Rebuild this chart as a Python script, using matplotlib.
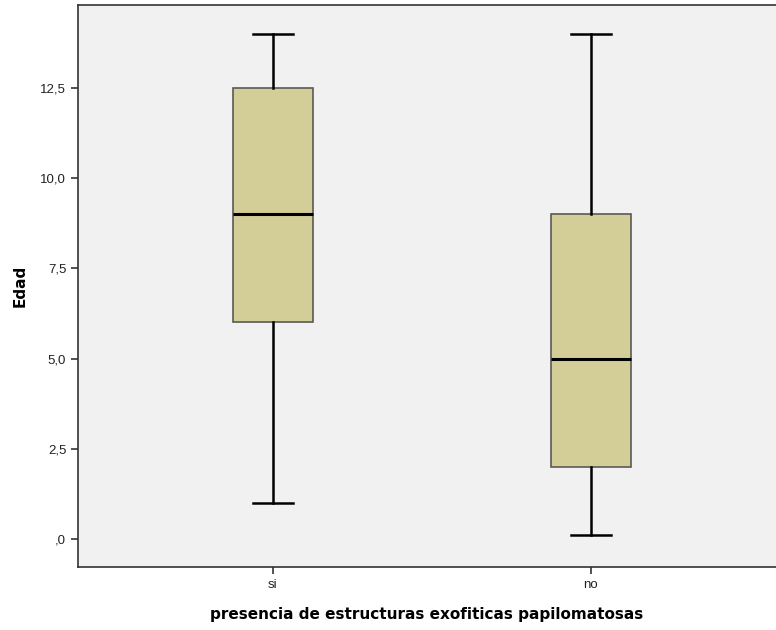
import matplotlib
matplotlib.use('Agg')
import matplotlib.pyplot as plt

# datos
categorias = ['si', 'no']
bigote_inf = [1.0, 0.1]
cuartil_1 = [6.0, 2.0]
mediana = [9.0, 5.0]
cuartil_3 = [12.5, 9.0]
bigote_sup = [14.0, 14.0]
ticks_y = [0, 2.5, 5, 7.5, 10, 12.5]
etiquetas_y = [',0', '2,5', '5,0', '7,5', '10,0', '12,5']

stats = []
for i, cat in enumerate(categorias):
    stats.append({'label': cat, 'whislo': bigote_inf[i], 'q1': cuartil_1[i],
                  'med': mediana[i], 'q3': cuartil_3[i], 'whishi': bigote_sup[i],
                  'fliers': []})

fig = plt.figure(figsize=(7.76, 6.3), dpi=100)
ax = fig.add_axes([78 / 776, 63 / 630, 1 - 78 / 776, (567 - 5) / 630])
ax.set_facecolor('#f0f1f0')

ax.bxp(stats, positions=[1, 2], widths=0.252, patch_artist=True, showfliers=False,
       boxprops=dict(facecolor='#d3ce97', edgecolor='#5a5a55', linewidth=1.2),
       medianprops=dict(color='black', linewidth=2.2),
       whiskerprops=dict(color='black', linewidth=1.8),
       capprops=dict(color='black', linewidth=1.8),
       capwidths=0.126)

ax.set_xlim(0.387, 2.582)
ax.set_ylim(-0.78, 14.8)
ax.set_yticks(ticks_y)
ax.set_yticklabels(etiquetas_y, fontsize=9.5, family='Liberation Sans')
ax.set_xticks([1, 2])
ax.set_xticklabels(categorias, fontsize=9.5, family='Liberation Sans')
ax.tick_params(axis='both', length=5, width=1.2, colors='#333333', labelcolor='#222222')
for s in ['left', 'bottom', 'top']:
    ax.spines[s].set_linewidth(1.2)
    ax.spines[s].set_color('#333333')
ax.spines['right'].set_visible(False)

ax.set_ylabel('Edad', fontsize=11, fontweight='bold', labelpad=9)
ax.set_xlabel('presencia de estructuras exofiticas papilomatosas', fontsize=11,
              fontweight='bold', labelpad=12)

fig.savefig('out.png', dpi=100)
plt.close(fig)
